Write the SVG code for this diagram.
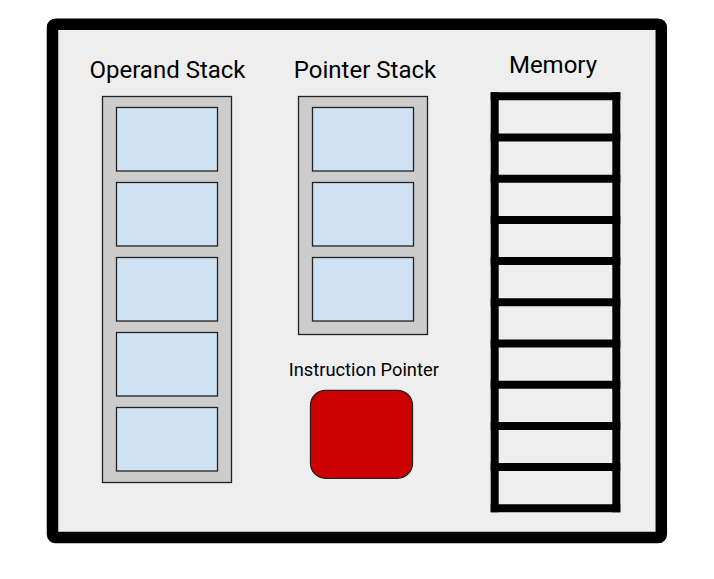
<svg xmlns="http://www.w3.org/2000/svg" width="714" height="579" viewBox="0 0 714 579">
<style>
.lbl{font-family:Roboto,"Liberation Sans",sans-serif;fill:#000;text-anchor:middle}
.stack{fill:#cccccc;stroke:#222;stroke-width:1.3}
.cell{fill:#cfe2f3;stroke:#222;stroke-width:1.3}
.bar{stroke:#000;stroke-width:8;stroke-linecap:square}
</style>
<rect width="714" height="579" fill="#fff"/>
<g id="frame">
<rect x="52.5" y="24.3" width="608.8" height="513.2" rx="3" fill="#eeeeee" stroke="#000" stroke-width="11.5"/>
</g>
<g id="operand-stack">
<text class="lbl" x="167.5" y="78" font-size="24">Operand Stack</text>
<rect class="stack" x="102.5" y="96.5" width="129" height="386"/>
<rect class="cell" x="116.5" y="107.5" width="101" height="63.5"/>
<rect class="cell" x="116.5" y="182.5" width="101" height="63.5"/>
<rect class="cell" x="116.5" y="257.5" width="101" height="63.5"/>
<rect class="cell" x="116.5" y="332.5" width="101" height="63.5"/>
<rect class="cell" x="116.5" y="407.5" width="101" height="63.5"/>
</g>
<g id="pointer-stack">
<text class="lbl" x="365" y="78" font-size="24">Pointer Stack</text>
<rect class="stack" x="298.5" y="96.5" width="129" height="238"/>
<rect class="cell" x="312.5" y="107.5" width="101" height="63.5"/>
<rect class="cell" x="312.5" y="182.5" width="101" height="63.5"/>
<rect class="cell" x="312.5" y="257.5" width="101" height="63.5"/>
</g>
<g id="instruction-pointer">
<text class="lbl" x="363.8" y="376" font-size="18.3">Instruction Pointer</text>
<rect x="310.5" y="390.3" width="102" height="88" rx="15" fill="#cc0000" stroke="#222" stroke-width="1.3"/>
</g>
<g id="memory">
<text class="lbl" x="553" y="73" font-size="24">Memory</text>
<line class="bar" x1="494.7" y1="96.3" x2="494.7" y2="508.3"/>
<line class="bar" x1="616.3" y1="96.3" x2="616.3" y2="508.3"/>
<line class="bar" x1="494.7" y1="96.3" x2="616.3" y2="96.3"/>
<line class="bar" x1="494.7" y1="137.5" x2="616.3" y2="137.5"/>
<line class="bar" x1="494.7" y1="178.7" x2="616.3" y2="178.7"/>
<line class="bar" x1="494.7" y1="219.9" x2="616.3" y2="219.9"/>
<line class="bar" x1="494.7" y1="261.1" x2="616.3" y2="261.1"/>
<line class="bar" x1="494.7" y1="302.3" x2="616.3" y2="302.3"/>
<line class="bar" x1="494.7" y1="343.5" x2="616.3" y2="343.5"/>
<line class="bar" x1="494.7" y1="384.7" x2="616.3" y2="384.7"/>
<line class="bar" x1="494.7" y1="425.9" x2="616.3" y2="425.9"/>
<line class="bar" x1="494.7" y1="467.1" x2="616.3" y2="467.1"/>
<line class="bar" x1="494.7" y1="508.3" x2="616.3" y2="508.3"/>
</g>
<g id="connectors"></g>
</svg>
